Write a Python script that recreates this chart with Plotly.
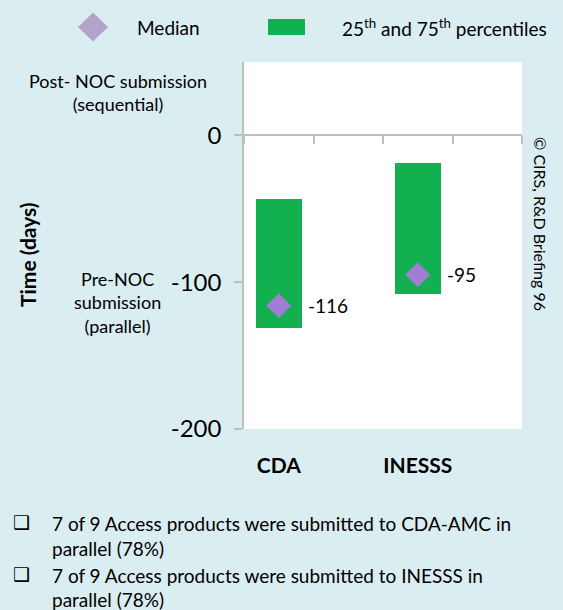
import plotly.graph_objects as go

# ---- data ----
categories = ["CDA", "INESSS"]
p25 = [-131, -108]
p75 = [-43, -19]
median = [-116, -95]
y_ticks = [0, -100, -200]
notes = [
    "7 of 9 Access products were submitted to CDA-AMC in",
    "parallel (78%)",
    "7 of 9 Access products were submitted to INESSS in",
    "parallel (78%)",
]

W, H = 563, 610
L, R, T, B = 244, 41, 62, 181
PW, PH = W - L - R, H - T - B
FONT = "Lato"
BG = "#daedf0"
GREEN = "#12b04f"
PURPLE = "#a17dd6"
GRID = "#bfbfbf"


def px(x):
    return (x - L) / PW


def py(y):
    return (H - B - y) / PH


xpos = [2 * i for i in range(len(categories))]

fig = go.Figure()
fig.add_trace(go.Bar(
    x=xpos, y=[b - a for a, b in zip(p25, p75)], base=p25,
    width=0.66, marker=dict(color=GREEN, line=dict(width=0)),
    hoverinfo="skip", showlegend=False))
fig.add_trace(go.Scatter(
    x=xpos, y=median, mode="markers",
    marker=dict(symbol="diamond", size=19, color=PURPLE),
    hoverinfo="skip", showlegend=False))
# axis at zero line
fig.add_trace(go.Scatter(x=[-0.5], y=[0], xaxis="x2", mode="markers",
                         marker=dict(opacity=0), hoverinfo="skip", showlegend=False))

fig.update_layout(
    width=W, height=H,
    margin=dict(l=L, r=R, t=T, b=B),
    paper_bgcolor=BG, plot_bgcolor="white",
    font=dict(family=FONT, color="black"),
    bargap=0,
    xaxis=dict(range=[-0.5, 3.5], tickvals=xpos, ticktext=categories,
               showgrid=False, zeroline=False, showline=False, ticks="",
               tickfont=dict(family=FONT, size=21, color="black", weight="bold"),
               ticklabelstandoff=22, fixedrange=True),
    xaxis2=dict(range=[-0.5, 3.5], overlaying="x", anchor="free",
                position=(0 - (-200)) / 250.0,
                tickvals=[-0.5, 0.5, 1.5, 2.5, 3.5], showticklabels=False,
                ticks="outside", ticklen=8, tickwidth=1.5, tickcolor=GRID,
                showline=True, linecolor=GRID, linewidth=1.5,
                showgrid=False, zeroline=False),
    yaxis=dict(range=[-200, 50], tickvals=y_ticks,
               ticktext=[str(v) for v in y_ticks],
               ticks="outside", ticklen=8, tickwidth=1.5, tickcolor=GRID,
               showline=True, linecolor=GRID, linewidth=1.5,
               showgrid=False, zeroline=False, ticklabelstandoff=8,
               tickfont=dict(family=FONT, size=24, color="black")),
)


def A(x, y, text, size, xanchor="center", **kw):
    d = dict(x=px(x), y=py(y), xref="paper", yref="paper", text=text,
             showarrow=False, xanchor=xanchor, yanchor="middle",
             font=dict(family=kw.pop("family", FONT), size=size, color="black"))
    d.update(kw)
    return d


ann = [
    A(118, 92, "Post- NOC submission<br>(sequential)", 18, align="center"),
    A(117, 302, "Pre-NOC<br>submission<br>(parallel)", 18, align="center"),
    A(27, 255, "<b>Time (days)</b>", 21, textangle=-90),
    A(541, 224, "© CIRS, R&D Briefing 96", 16, textangle=90),
    A(135, 28, "Median", 19, xanchor="left"),
    A(340, 28, "25<sup>th</sup> and 75<sup>th</sup> percentiles", 19, xanchor="left"),
]
# median data labels
for xv, m in zip(xpos, median):
    ann.append(dict(x=xv, y=m, xref="x", yref="y", text=str(m), showarrow=False,
                    xanchor="left", yanchor="middle", xshift=27,
                    font=dict(family=FONT, size=19, color="black")))
note_y = [523, 548, 575, 599]
for i, (t, yy) in enumerate(zip(notes, note_y)):
    ann.append(A(50, yy, t, 19, xanchor="left"))
    if i % 2 == 0:
        ann.append(A(21, yy - 1, "❑", 19, family="DejaVu Sans"))
fig.update_layout(annotations=ann)

shapes = []
cx, cy, hw, hh = 93, 27, 15, 14.5
shapes.append(dict(type="path", xref="paper", yref="paper",
                   path=f"M {px(cx - hw)} {py(cy)} L {px(cx)} {py(cy - hh)} L {px(cx + hw)} {py(cy)} L {px(cx)} {py(cy + hh)} Z",
                   fillcolor="#b4a2cb", line=dict(width=0)))
shapes.append(dict(type="rect", xref="paper", yref="paper",
                   x0=px(268), x1=px(305), y0=py(19), y1=py(35),
                   fillcolor=GREEN, line=dict(width=0)))
fig.update_layout(shapes=shapes)

fig.write_html("out.html", config={"displayModeBar": False},
               post_script="document.body.style.margin='0';document.body.style.overflow='hidden';")
